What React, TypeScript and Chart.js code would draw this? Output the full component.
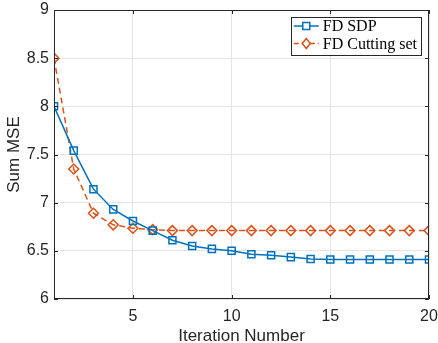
import React, { useEffect, useRef } from "react";
import { Chart, registerables } from "chart.js";
Chart.register(...registerables);

const iterations = [1, 2, 3, 4, 5, 6, 7, 8, 9, 10, 11, 12, 13, 14, 15, 16, 17, 18, 19, 20];
const sdpMSE = [8.0, 7.54, 7.14, 6.93, 6.81, 6.71, 6.61, 6.55, 6.52, 6.5, 6.465, 6.455, 6.435, 6.415, 6.41, 6.41, 6.41, 6.41, 6.41, 6.41];
const cuttingMSE = [8.5, 7.35, 6.89, 6.77, 6.735, 6.72, 6.71, 6.71, 6.71, 6.71, 6.71, 6.71, 6.71, 6.71, 6.71, 6.71, 6.71, 6.71, 6.71, 6.71];
const xTickValues = [5, 10, 15, 20];
const yTickValues = [6, 6.5, 7, 7.5, 8, 8.5, 9];
const seriesNames = ["FD SDP", "FD Cutting set"];

const BLUE = "#0072BD";
const ORANGE = "#D95319";
const AXIS = "#262626";
const SANS = "'Liberation Sans', Arial, sans-serif";

const boxPlugin = {
  id: "matlabBox",
  afterDatasetsDraw(chart: any) {
    const { ctx, chartArea: a, scales } = chart;
    ctx.save();
    ctx.strokeStyle = AXIS;
    ctx.lineWidth = 1;
    ctx.strokeRect(a.left + 0.5, a.top + 0.5, a.right - a.left - 1, a.bottom - a.top - 1);
    const tl = 4;
    ctx.beginPath();
    for (const v of xTickValues) {
      const px = Math.round(scales.x.getPixelForValue(v)) + 0.5;
      ctx.moveTo(px, a.bottom);
      ctx.lineTo(px, a.bottom - tl);
      ctx.moveTo(px, a.top);
      ctx.lineTo(px, a.top + tl);
    }
    for (const v of yTickValues) {
      const py = Math.round(scales.y.getPixelForValue(v)) + 0.5;
      ctx.moveTo(a.left, py);
      ctx.lineTo(a.left + tl, py);
      ctx.moveTo(a.right, py);
      ctx.lineTo(a.right - tl, py);
    }
    ctx.stroke();

    // legend
    const font = "16px 'Liberation Serif', serif";
    ctx.font = font;
    const textW = Math.max(...seriesNames.map((n) => ctx.measureText(n).width));
    const lineLen = 25;
    const bw = 3 + lineLen + 4 + textW + 4;
    const bh = 38;
    const bx = a.right - 8 - bw;
    const by = a.top + 7;
    ctx.fillStyle = "#ffffff";
    ctx.fillRect(bx, by, bw, bh);
    ctx.strokeStyle = AXIS;
    ctx.lineWidth = 1;
    ctx.strokeRect(Math.round(bx) + 0.5, by + 0.5, Math.round(bw), bh);
    const rows = [by + 9, by + 26.5];
    const colors = [BLUE, ORANGE];
    rows.forEach((ry, i) => {
      const x0 = bx + 3;
      ctx.strokeStyle = colors[i];
      ctx.lineWidth = 1.5;
      ctx.setLineDash(i === 1 ? [5, 3] : []);
      ctx.beginPath();
      ctx.moveTo(x0, ry);
      ctx.lineTo(x0 + lineLen, ry);
      ctx.stroke();
      ctx.setLineDash([]);
      const cx = x0 + lineLen / 2;
      ctx.beginPath();
      if (i === 0) {
        ctx.rect(cx - 3.5, ry - 3.5, 7, 7);
      } else {
        ctx.moveTo(cx, ry - 5);
        ctx.lineTo(cx + 4, ry);
        ctx.lineTo(cx, ry + 5);
        ctx.lineTo(cx - 4, ry);
        ctx.closePath();
      }
      ctx.fillStyle = "#fff";
      ctx.fill();
      ctx.stroke();
      ctx.fillStyle = "#000";
      ctx.font = font;
      ctx.textBaseline = "middle";
      ctx.textAlign = "left";
      ctx.fillText(seriesNames[i], x0 + lineLen + 4, ry + 1);
    });
    ctx.restore();
  },
};

export default function App() {
  const ref = useRef<HTMLCanvasElement>(null);
  useEffect(() => {
    document.body.style.margin = "0";
    const chart = new Chart(ref.current!, {
      type: "line",
      data: {
        datasets: [
          {
            label: seriesNames[0],
            data: sdpMSE.map((y, i) => ({ x: iterations[i], y })),
            borderColor: BLUE,
            backgroundColor: "rgba(255,255,255,0)",
            borderWidth: 1.5,
            pointStyle: "rect",
            pointRadius: 5,
            pointBorderWidth: 1.5,
            pointBorderColor: BLUE,
            pointBackgroundColor: "rgba(255,255,255,0)",
            tension: 0,
          },
          {
            label: seriesNames[1],
            data: cuttingMSE.map((y, i) => ({ x: iterations[i], y })),
            borderColor: ORANGE,
            backgroundColor: "rgba(255,255,255,0)",
            borderWidth: 1.5,
            borderDash: [6, 4],
            pointStyle: "rectRot",
            pointRadius: 5,
            pointBorderWidth: 1.5,
            pointBorderColor: ORANGE,
            pointBackgroundColor: "rgba(255,255,255,0)",
            tension: 0,
          },
        ],
      },
      options: {
        animation: false,
        responsive: false,
        layout: { padding: { top: 10, right: 9, left: 0, bottom: 0 } },
        plugins: { legend: { display: false }, tooltip: { enabled: false } },
        scales: {
          x: {
            type: "linear",
            min: 1,
            max: 20,
            afterBuildTicks: (s: any) => {
              s.ticks = xTickValues.map((v) => ({ value: v }));
            },
            afterFit: (s: any) => {
              s.height = 44;
              s.paddingLeft = 0;
              s.paddingRight = 0;
            },
            border: { display: false },
            grid: { color: "#e5e5e5", drawTicks: false, lineWidth: 1 },
            ticks: {
              color: AXIS,
              padding: 8,
              font: { family: SANS, size: 16 },
              callback: (v: any) => String(v),
              maxRotation: 0,
            },
            title: {
              display: true,
              text: "Iteration Number",
              color: AXIS,
              padding: { top: 0, bottom: -4 },
              font: { family: SANS, size: 17 },
            },
          },
          y: {
            type: "linear",
            min: 6,
            max: 9,
            afterBuildTicks: (s: any) => {
              s.ticks = yTickValues.map((v) => ({ value: v }));
            },
            afterFit: (s: any) => {
              s.width = 54;
              s.paddingTop = 0;
              s.paddingBottom = 0;
            },
            border: { display: false },
            grid: { color: "#e5e5e5", drawTicks: false, lineWidth: 1 },
            ticks: {
              color: AXIS,
              padding: 5,
              font: { family: SANS, size: 16 },
              callback: (v: any) => String(v),
            },
            title: {
              display: true,
              text: "Sum MSE",
              color: AXIS,
              padding: { top: 4, bottom: 0 },
              font: { family: SANS, size: 17 },
            },
          },
        },
      },
      plugins: [boxPlugin],
    } as any);
    return () => chart.destroy();
  }, []);
  return (
    <div style={{ width: 438, height: 343 }}>
      <canvas ref={ref} width={438} height={343} style={{ display: "block" }} />
    </div>
  );
}
